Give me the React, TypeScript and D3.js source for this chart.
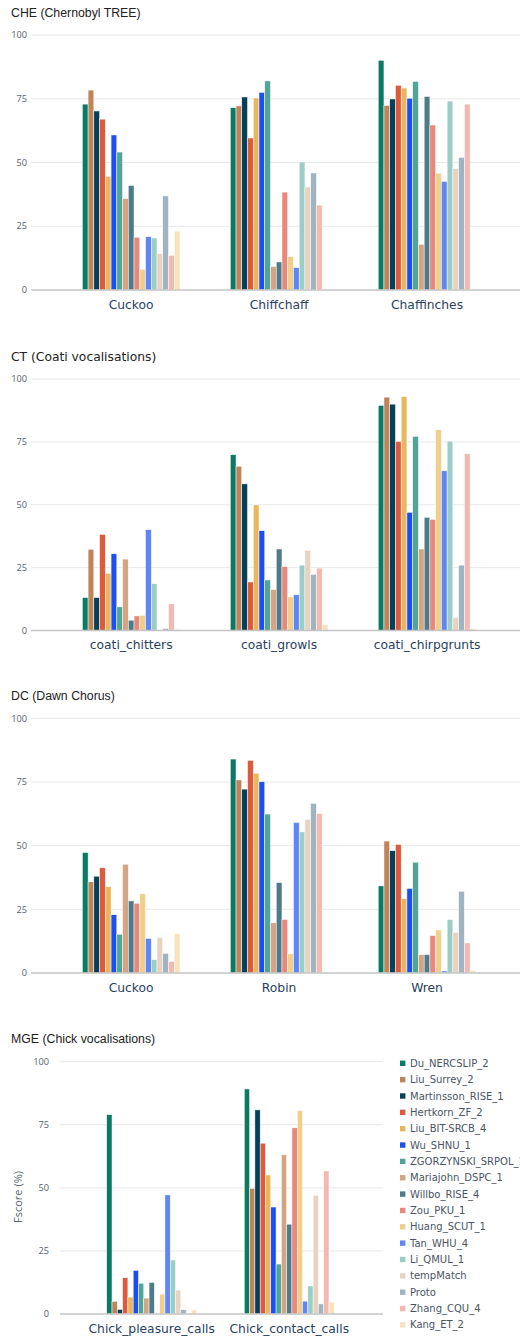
import React from "react";
import * as d3 from "d3";

const seriesNames = [
  "Du_NERCSLIP_2", "Liu_Surrey_2", "Martinsson_RISE_1", "Hertkorn_ZF_2", "Liu_BIT-SRCB_4",
  "Wu_SHNU_1", "ZGORZYNSKI_SRPOL_1", "Mariajohn_DSPC_1", "Willbo_RISE_4", "Zou_PKU_1",
  "Huang_SCUT_1", "Tan_WHU_4", "Li_QMUL_1", "tempMatch", "Proto", "Zhang_CQU_4", "Kang_ET_2",
];
const seriesColors = [
  "#0a7a63", "#c0845a", "#05405a", "#de5a3c", "#e9b65c",
  "#1c4ef5", "#52a596", "#d3a585", "#4f7a8a", "#e8887a",
  "#efcf8c", "#5f85f6", "#9acec5", "#e8d3c2", "#9fb4c0", "#f1b9b1", "#f6e3bd",
];
const yTicks = [0, 25, 50, 75, 100];

const cheTitle = "CHE (Chernobyl TREE)";
const cheCategories = ["Cuckoo", "Chiffchaff", "Chaffinches"];
const cheValues = [
  [72.9, 78.4, 70.2, 67.0, 44.6, 60.8, 54.1, 35.9, 41.0, 20.7, 8.1, 20.9, 20.4, 14.2, 36.9, 13.6, 23.1],
  [71.5, 72.2, 75.7, 59.6, 75.3, 77.5, 82.0, 9.2, 11.0, 38.4, 13.1, 8.8, 50.2, 40.4, 45.9, 33.3, 0.3],
  [90.1, 72.4, 74.9, 80.3, 79.2, 75.2, 81.8, 17.9, 75.9, 64.7, 45.8, 42.6, 74.1, 47.6, 52.0, 72.9, 0],
];

const ctTitle = "CT (Coati vocalisations)";
const ctCategories = ["coati_chitters", "coati_growls", "coati_chirpgrunts"];
const ctValues = [
  [13.1, 32.3, 13.1, 38.2, 22.7, 30.5, 9.4, 28.4, 4.1, 5.8, 6.0, 40.1, 18.6, 0, 0.8, 10.6, 0.5],
  [69.9, 65.3, 58.3, 19.3, 49.9, 39.7, 20.1, 16.3, 32.4, 25.4, 13.3, 14.2, 26.0, 31.9, 22.3, 24.8, 2.4],
  [89.5, 92.8, 90.0, 75.2, 93.0, 47.0, 77.2, 32.4, 45.0, 44.2, 79.8, 63.5, 75.3, 5.2, 26.0, 70.3, 0.8],
];

const dcTitle = "DC (Dawn Chorus)";
const dcCategories = ["Cuckoo", "Robin", "Wren"];
const dcValues = [
  [47.3, 35.8, 38.0, 41.3, 33.9, 22.9, 15.2, 42.7, 28.3, 27.4, 31.1, 13.6, 5.2, 13.9, 7.7, 4.6, 15.5],
  [84.0, 75.8, 72.2, 83.5, 78.4, 75.1, 62.4, 19.7, 35.5, 21.0, 7.5, 59.1, 55.4, 60.3, 66.6, 62.6, 0.4],
  [34.2, 51.8, 48.0, 50.5, 29.2, 33.2, 43.5, 7.2, 7.2, 14.7, 16.9, 0.8, 21.0, 16.0, 32.1, 11.8, 1.0],
];

const mgeTitle = "MGE (Chick vocalisations)";
const mgeCategories = ["Chick_pleasure_calls", "Chick_contact_calls"];
const mgeValues = [
  [79.0, 5.0, 1.8, 14.4, 6.7, 17.3, 12.2, 6.3, 12.5, 0, 7.9, 47.2, 21.4, 9.5, 1.7, 0, 1.6],
  [89.2, 49.8, 80.9, 67.7, 55.1, 42.4, 19.8, 63.1, 35.6, 73.8, 80.6, 5.1, 11.1, 47.0, 4.0, 56.7, 4.7],
];
const yAxisTitle = "Fscore (%)";

type PanelGeom = {
  titleY: number; yTop: number; yZero: number; gridX0: number; gridX1: number;
  tickX: number; xRange: [number, number]; groupFrac: number; titleFont: string;
};

const panels: { title: string; categories: string[]; values: number[][]; geom: PanelGeom }[] = [
  { title: cheTitle, categories: cheCategories, values: cheValues,
    geom: { titleY: 12, yTop: 35, yZero: 290, gridX0: 31, gridX1: 520, tickX: 27, xRange: [57.2, 501], groupFrac: 0.66, titleFont: "Liberation Sans, Arial, sans-serif" } },
  { title: ctTitle, categories: ctCategories, values: ctValues,
    geom: { titleY: 356, yTop: 379, yZero: 630.5, gridX0: 31, gridX1: 520, tickX: 27, xRange: [57.2, 501], groupFrac: 0.66, titleFont: "DejaVu Sans, sans-serif" } },
  { title: dcTitle, categories: dcCategories, values: dcValues,
    geom: { titleY: 695, yTop: 718.3, yZero: 973, gridX0: 31, gridX1: 520, tickX: 27, xRange: [57.2, 501], groupFrac: 0.66, titleFont: "Liberation Sans, Arial, sans-serif" } },
  { title: mgeTitle, categories: mgeCategories, values: mgeValues,
    geom: { titleY: 1038, yTop: 1061.7, yZero: 1314, gridX0: 60, gridX1: 383, tickX: 49, xRange: [82.9, 358.1], groupFrac: 0.654, titleFont: "Liberation Sans, Arial, sans-serif" } },
];

function Panel({ title, categories, values, geom }: typeof panels[number]) {
  const y = d3.scaleLinear().domain([0, 100]).range([geom.yZero, geom.yTop]);
  const x = d3.scaleBand<string>().domain(categories).range(geom.xRange).padding(0);
  const groupW = x.bandwidth() * geom.groupFrac;
  const inner = d3.scaleBand<number>().domain(d3.range(seriesNames.length)).range([0, groupW]).padding(0);
  return (
    <g>
      <text x={11} y={geom.titleY + 4.5} fontFamily={geom.titleFont} fontSize={12.3} fill="#222">{title}</text>
      {yTicks.map((t) => (
        <g key={t}>
          {t !== 0 && (
            <line x1={geom.gridX0} x2={geom.gridX1} y1={y(t)} y2={y(t)} stroke="#e8e8e8" strokeWidth={1} />
          )}
          <text x={geom.tickX} y={y(t)} dy="0.35em" textAnchor="end" fontFamily="Open Sans, sans-serif" fontSize={9.2} fill="#566270">{t}</text>
        </g>
      ))}
      {categories.map((c, ci) => {
        const gx = (x(c) ?? 0) + (x.bandwidth() - groupW) / 2;
        return (
          <g key={c}>
            {values[ci].map((v, si) =>
              v > 0 ? (
                <rect key={si} x={gx + (inner(si) ?? 0)} y={y(v)} width={inner.bandwidth()} height={y(0) - y(v)}
                  fill={seriesColors[si]} stroke="#fff" strokeWidth={0.5} />
              ) : null
            )}
            <text x={(x(c) ?? 0) + x.bandwidth() / 2} y={geom.yZero + 14.5} dy="0.35em" textAnchor="middle"
              fontFamily="DejaVu Sans, sans-serif" fontSize={12.3} fill="#2a3f5f">{c}</text>
          </g>
        );
      })}
      <line x1={geom.gridX0} x2={geom.gridX1} y1={y(0)} y2={y(0)} stroke="#c4c4c4" strokeWidth={1.4} />
    </g>
  );
}

export default function App() {
  const legendY0 = 1063.3;
  const legendStep = 16.35;
  return (
    <svg width={520} height={1338} style={{ position: "absolute", left: 0, top: 0, background: "#fff" }}>
      <rect width={520} height={1338} fill="#fff" />
      {panels.map((p) => (
        <Panel key={p.title} {...p} />
      ))}
      <text transform={`translate(18,1197) rotate(-90)`} textAnchor="middle" dy="0.35em"
        fontFamily="Open Sans, sans-serif" fontSize={11} fill="#566270">{yAxisTitle}</text>
      {seriesNames.map((n, i) => (
        <g key={n} transform={`translate(0,${legendY0 + i * legendStep})`}>
          <rect x={400} y={-2.7} width={5.4} height={5.4} fill={seriesColors[i]} />
          <text x={410} y={0} dy="0.35em" fontFamily="DejaVu Sans, sans-serif" fontSize={10} fill="#4a5563">{n}</text>
        </g>
      ))}
    </svg>
  );
}
